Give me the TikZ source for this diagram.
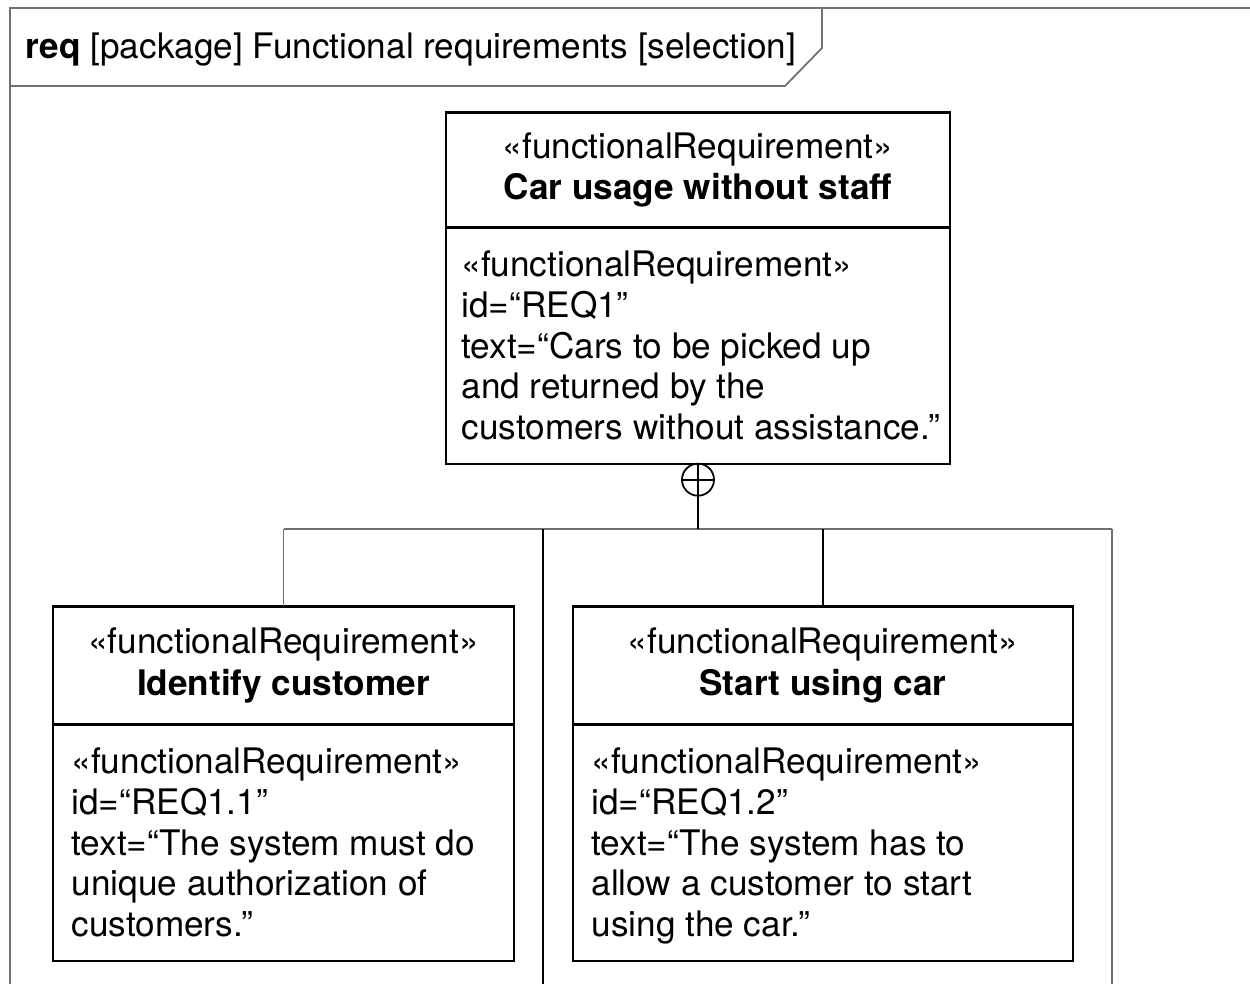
\documentclass[tikz,border=0pt]{standalone}
\usepackage{fontspec}
\setmainfont{TeX Gyre Heros}
\usepackage{tikz}
\usetikzlibrary{positioning}
\definecolor{framegray}{HTML}{707070}

\begin{document}
\begin{tikzpicture}[
  x=0.01cm, y=-0.01cm,
  txt/.style={font=\fontsize{10pt}{11.6pt}\selectfont},
  reqhead/.style={txt, draw, line width=0.6pt, align=center, inner sep=0pt, outer sep=0pt},
  reqbody/.style={draw, line width=0.6pt, inner sep=0pt, outer sep=0pt, minimum height=2.36cm},
  bodytxt/.style={txt, align=left, inner sep=0pt},
  own/.style={draw, circle, line width=0.5pt, inner sep=0pt, outer sep=0pt, minimum size=0.32cm},
  frame/.style={draw=framegray, line width=0.5pt},
  tree/.style={line width=0.55pt},
  bar/.style={draw=framegray, line width=0.5pt}
]
  \useasboundingbox (0,0) rectangle (1250,984);

  % Diagrammrahmen
  \draw[frame] (10,984) -- (10,8) -- (1250,8);
  \draw[frame] (10,86) -- (785,86) -- (822,48) -- (822,8);
  \node[txt, anchor=west, inner sep=0pt] (title) at (25,49.5) {\textbf{req} [package] Functional requirements [selection]};

  % Oberste Anforderung
  \node[reqhead, minimum width=5.04cm, minimum height=1.15cm] (tophead) at (698,170) {«functionalRequirement»\\[0.3pt] \textbf{Car usage without staff}};
  \node[reqbody, minimum width=5.04cm, below=0pt of tophead] (topbody) {};
  \node[bodytxt, below right=0.225cm and 0.15cm of topbody.north west] (toptxt) {«functionalRequirement»\\ id=“REQ1”\\ text=“Cars to be picked up\\ and returned by the\\ customers without assistance.”};

  % Teilanforderungen
  \node[reqhead, minimum width=4.61cm, minimum height=1.18cm] (identhead) at (283.5,665.5) {«functionalRequirement»\\[0.3pt] \textbf{Identify customer}};
  \node[reqbody, minimum width=4.61cm, below=0pt of identhead] (identbody) {};
  \node[bodytxt, below right=0.225cm and 0.18cm of identbody.north west] (identtxt) {«functionalRequirement»\\ id=“REQ1.1”\\ text=“The system must do\\ unique authorization of\\ customers.”};

  \node[reqhead, minimum width=5.00cm, minimum height=1.18cm] (starthead) at (823,665.5) {«functionalRequirement»\\[0.3pt] \textbf{Start using car}};
  \node[reqbody, minimum width=5.00cm, below=0pt of starthead] (startbody) {};
  \node[bodytxt, below right=0.225cm and 0.18cm of startbody.north west] (starttxt) {«functionalRequirement»\\ id=“REQ1.2”\\ text=“The system has to\\ allow a customer to start\\ using the car.”};

  % Enthaltensein
  \node[own, below=0pt of topbody] (own) {};
  \draw[tree] (own.north) -- (own.south) (own.west) -- (own.east);
  \coordinate (fork) at (698,529);
  \coordinate (leftend) at (543,984);
  \coordinate (rightend) at (1112,984);

  \draw[bar] (identhead.north |- fork) -- (rightend |- fork);
  \draw[tree] (own.south) -- (fork);
  \draw[bar] (identhead.north |- fork) -- (identhead.north);
  \draw[tree] (leftend |- fork) -- (leftend);
  \draw[tree] (starthead.north |- fork) -- (starthead.north);
  \draw[bar] (rightend |- fork) -- (rightend);

\end{tikzpicture}
\end{document}
